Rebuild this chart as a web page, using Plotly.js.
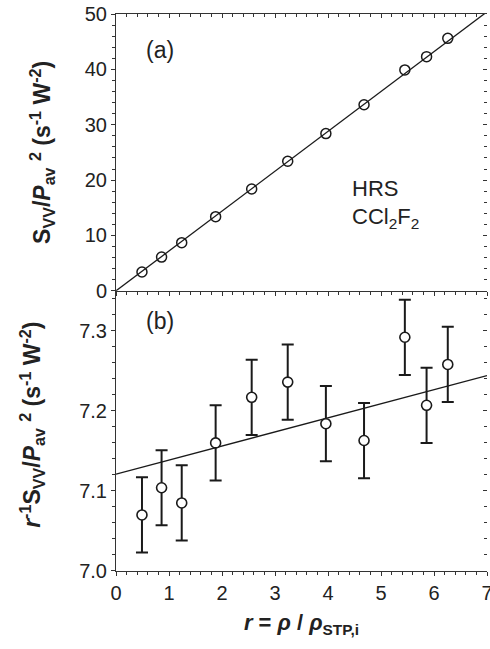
<!DOCTYPE html>
<html>
<head>
<meta charset="utf-8">
<script src="https://cdn.plot.ly/plotly-3.0.1.min.js"></script>
<style>html,body{margin:0;padding:0;background:#fff;}#chart{width:490px;height:649px;}</style>
</head>
<body>
<div id="chart"></div>
<script>
// Density ratio r = rho / rho_STP,i
const rVals = [0.49, 0.86, 1.24, 1.88, 2.56, 3.24, 3.96, 4.68, 5.45, 5.86, 6.26];
// Panel (a): S_VV / P_av^2
const sOverP2 = [3.4, 6.1, 8.7, 13.4, 18.4, 23.4, 28.4, 33.6, 39.9, 42.3, 45.6];
// Panel (a) fit line end points
const fitAx = [0, 7];
const fitAy = [0, 50.4];
// Panel (b): r^-1 S_VV / P_av^2 and its error
const rInvS = [7.070, 7.104, 7.085, 7.160, 7.217, 7.236, 7.184, 7.163, 7.292, 7.207, 7.258];
const rInvSErr = [0.047, 0.047, 0.047, 0.047, 0.047, 0.047, 0.047, 0.047, 0.047, 0.047, 0.047];
// Panel (b) fit line end points
const fitBx = [0, 7];
const fitBy = [7.121, 7.244];

const ink = '#1a1a1a';
const fontFam = '"Liberation Sans", Arial, sans-serif';

const traces = [
  {x: fitAx, y: fitAy, xaxis: 'x2', yaxis: 'y2', mode: 'lines', line: {color: ink, width: 1.3}, showlegend: false, hoverinfo: 'skip'},
  {x: rVals, y: sOverP2, xaxis: 'x2', yaxis: 'y2', mode: 'markers',
   marker: {symbol: 'circle-open', size: 10, color: ink, line: {color: ink, width: 1.5}}, showlegend: false},
  {x: fitBx, y: fitBy, xaxis: 'x', yaxis: 'y', mode: 'lines', line: {color: ink, width: 1.3}, showlegend: false, hoverinfo: 'skip'},
  {x: rVals, y: rInvS, xaxis: 'x', yaxis: 'y', mode: 'markers',
   error_y: {type: 'data', array: rInvSErr, visible: true, color: ink, thickness: 2, width: 6},
   marker: {symbol: 'circle', size: 10, color: '#fff', line: {color: ink, width: 1.6}}, showlegend: false}
];

const tickFont = {family: fontFam, size: 20, color: '#222'};
const baseAxis = {showgrid: false, zeroline: false, showline: true, linecolor: '#333', linewidth: 1,
  ticks: 'outside', ticklen: 4, tickcolor: '#333', tickwidth: 1, tickfont: tickFont, ticklabeloverflow: 'allow'};
const titleFont = {family: fontFam, size: 23, color: '#222'};

const layout = {
  width: 490, height: 649,
  margin: {l: 116, r: 3, t: 14, b: 78},
  paper_bgcolor: '#fff', plot_bgcolor: '#fff',
  font: {family: fontFam, color: '#222'},
  xaxis: Object.assign({}, baseAxis, {anchor: 'y', domain: [0, 1], range: [0, 7], dtick: 1, tick0: 0,
    minor: {dtick: 0.2, ticklen: 3, ticks: 'outside', tickcolor: '#333'},
    title: {text: '<b><i>r</i> = <i>ρ</i> / <i>ρ</i><sub>STP,i</sub></b>', font: {family: fontFam, size: 22, color: '#222'}, standoff: 11}}),
  yaxis: Object.assign({}, baseAxis, {anchor: 'x', domain: [0, 0.503], range: [7.0, 7.35], dtick: 0.1, tick0: 7.0, tickformat: '.1f',
    minor: {dtick: 0.02, ticklen: 3, ticks: 'outside', tickcolor: '#333'}}),
  xaxis2: Object.assign({}, baseAxis, {anchor: 'y2', domain: [0, 1], range: [0, 7], dtick: 1, showticklabels: false, matches: 'x',
    minor: {dtick: 0.2, ticklen: 3, ticks: 'outside', tickcolor: '#333'}}),
  yaxis2: Object.assign({}, baseAxis, {anchor: 'x2', domain: [0.503, 1], range: [0, 50], dtick: 10, tick0: 0,
    minor: {dtick: 2, ticklen: 3, ticks: 'outside', tickcolor: '#333'}}),
  // top and right mirrored axes with inward ticks
  xaxis3: Object.assign({}, baseAxis, {overlaying: 'x2', anchor: 'y2', side: 'top', range: [0, 7], dtick: 1, ticks: 'inside', showticklabels: false,
    minor: {dtick: 0.2, ticklen: 3, ticks: 'inside', tickcolor: '#333'}}),
  yaxis3: Object.assign({}, baseAxis, {overlaying: 'y2', anchor: 'x2', side: 'right', range: [0, 50], dtick: 10, ticks: 'inside', showticklabels: false, showline: false,
    minor: {dtick: 2, ticklen: 3, ticks: 'inside', tickcolor: '#333'}}),
  yaxis4: Object.assign({}, baseAxis, {overlaying: 'y', anchor: 'x', side: 'right', range: [7.0, 7.35], dtick: 0.1, tick0: 7.0, ticks: 'inside', showticklabels: false, showline: false,
    minor: {dtick: 0.02, ticklen: 3, ticks: 'inside', tickcolor: '#333'}}),
  annotations: [
    {xref: 'paper', yref: 'paper', x: -0.2, y: 0.752, xanchor: 'center', yanchor: 'middle', textangle: -90, showarrow: false, font: titleFont,
     text: '<b>S<sub>VV</sub>/<i>P</i><sub>av</sub> <sup>2</sup> (s<sup>-1</sup> W<sup>-2</sup>)</b>'},
    {xref: 'paper', yref: 'paper', x: -0.227, y: 0.262, xanchor: 'center', yanchor: 'middle', textangle: -90, showarrow: false, font: titleFont,
     text: '<b><i>r</i><sup>-1</sup>S<sub>VV</sub>/<i>P</i><sub>av</sub> <sup>2</sup> (s<sup>-1</sup> W<sup>-2</sup>)</b>'},
    {xref: 'x2', yref: 'y2', x: 0.83, y: 43.5, text: '(a)', showarrow: false, font: {family: fontFam, size: 23, color: '#222'}},
    {xref: 'x2', yref: 'y2', x: 4.42, y: 18.4, xanchor: 'left', text: 'HRS', showarrow: false, font: {family: fontFam, size: 22, color: '#222'}},
    {xref: 'x2', yref: 'y2', x: 4.42, y: 13.2, xanchor: 'left', text: 'CCl<sub>2</sub>F<sub>2</sub>', showarrow: false, font: {family: fontFam, size: 22, color: '#222'}},
    {xref: 'x', yref: 'y', x: 0.83, y: 7.312, text: '(b)', showarrow: false, font: {family: fontFam, size: 23, color: '#222'}}
  ]
};

// dummy traces to activate overlay axes
traces.push({x: [0], y: [0], xaxis: 'x3', yaxis: 'y2', mode: 'markers', marker: {opacity: 0}, showlegend: false, hoverinfo: 'skip'});
traces.push({x: [0], y: [0], xaxis: 'x2', yaxis: 'y3', mode: 'markers', marker: {opacity: 0}, showlegend: false, hoverinfo: 'skip'});
traces.push({x: [0], y: [7.0], xaxis: 'x', yaxis: 'y4', mode: 'markers', marker: {opacity: 0}, showlegend: false, hoverinfo: 'skip'});

Plotly.newPlot('chart', traces, layout, {displayModeBar: false, staticPlot: true});
</script>
</body>
</html>
